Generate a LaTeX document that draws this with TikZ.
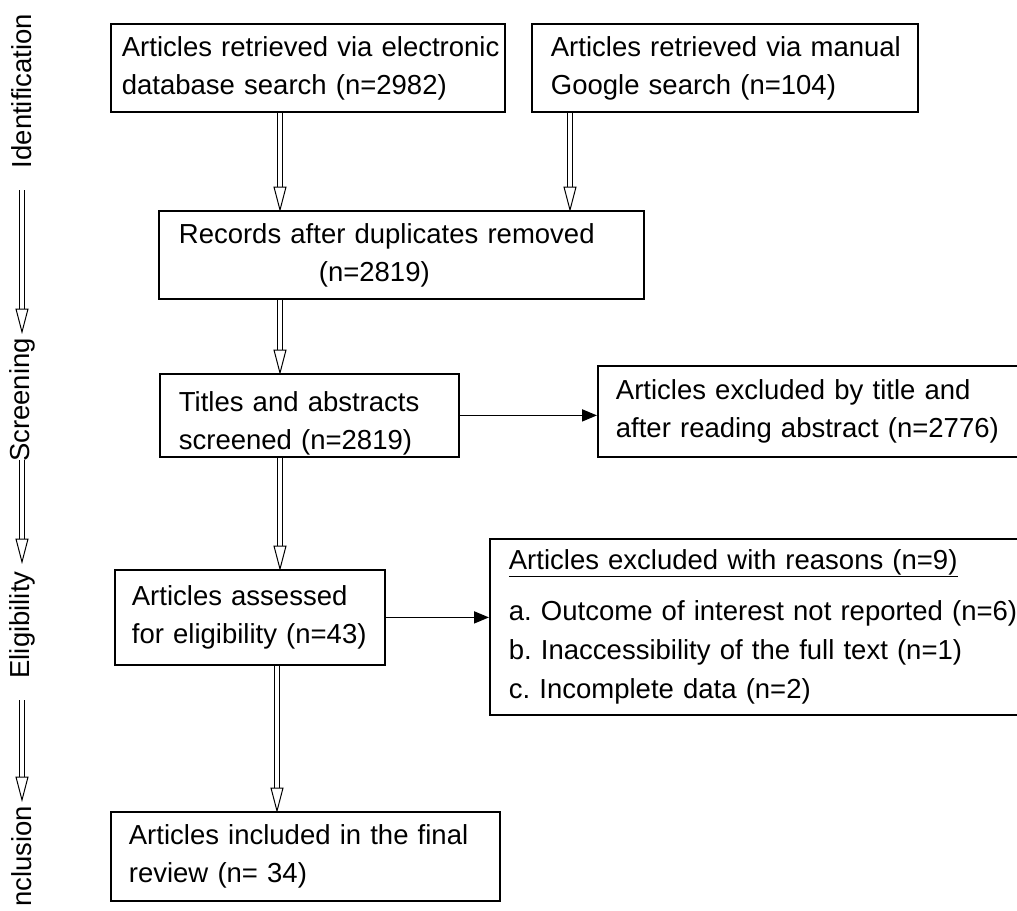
\documentclass[tikz,border=0pt]{standalone}
\usepackage{fontspec}
\setmainfont{Liberation Sans}
\usetikzlibrary{arrows.meta}
\frenchspacing
\newcommand{\hollowarrow}[2]{%
  \draw[hshaft] (#1) -- (#2);
  \draw[hhead] (#2) -- ++(-6,-23) -- ++(12,0) -- cycle;}
\begin{document}
\begin{tikzpicture}[x=1pt,y=-1pt,
  txt/.style={font=\fontsize{27.5}{38}\selectfont},
  box/.style={txt, draw, line width=1.8pt, anchor=north west, align=left, inner ysep=0pt},
  hshaft/.style={line width=1pt, double=white, double distance=3.6pt, shorten >=22pt},
  hhead/.style={line width=1pt, fill=white, line join=miter},
  solidarrow/.style={line width=1.8pt, -{Triangle[length=15pt,width=12pt]}},
  side/.style={txt, rotate=90, inner sep=0pt}
]
\clip (0,0) rectangle (1017,910);
\fill[white] (0,0) rectangle (1017,910);

% boxes
\node[box, minimum height=88pt, inner xsep=11pt, text width=372pt] (b1) at (110,23)
  {\mbox{Articles retrieved via electronic}\\\mbox{database search (n=2982)}};
\node[box, minimum height=88pt, inner xsep=19pt, text width=348pt] (b2) at (531,23)
  {\mbox{Articles retrieved via manual}\\\mbox{Google search (n=104)}};
\node[box, minimum height=88pt, inner xsep=20pt, text width=445pt] (b3) at (158,210)
  {\mbox{Records after duplicates removed}\\\hspace*{140pt}(n=2819)};
\node[box, minimum height=83pt, inner xsep=19pt, text width=261pt] (b4) at (159,373)
  {\rule{0pt}{36pt}Titles and abstracts\\screened (n=2819)};
\node[box, minimum height=91pt, inner xsep=18pt, text width=389pt] (b5) at (597,365)
  {\mbox{Articles excluded by title and}\\\mbox{after reading abstract (n=2776)}};
\node[box, minimum height=95pt, inner xsep=17pt, text width=236pt] (b6) at (114,569)
  {\mbox{Articles assessed}\\\mbox{for eligibility (n=43)}};
\node[box, minimum height=176pt, inner xsep=19pt, text width=505pt,
      font=\fontsize{27.5}{39}\selectfont] (b7) at (489,538)
  {\mbox{\underline{Articles excluded with reasons (n=9)}}\\[12pt]
   \mbox{a. Outcome of interest not reported (n=6)}\\
   \mbox{b. Inaccessibility of the full text (n=1)}\\
   \mbox{c. Incomplete data (n=2)}};
\node[box, minimum height=89pt, inner xsep=18pt, text width=353pt] (b8) at (110,811)
  {\mbox{Articles included in the final}\\\mbox{review (n= 34)}};

% column coordinates for hollow arrows
\coordinate (cL) at (280,0);
\coordinate (cR) at (570,0);
\coordinate (cB) at (277,0);

\hollowarrow{b1.south -| cL}{b3.north -| cL}
\hollowarrow{b2.south -| cR}{b3.north -| cR}
\hollowarrow{b3.south -| cL}{b4.north -| cL}
\hollowarrow{b4.south -| cL}{b6.north -| cL}
\hollowarrow{b6.south -| cB}{b8.north -| cB}

\draw[solidarrow] (b4.east) -- (b4.east -| b5.west);
\draw[solidarrow] (b6.east) -- (b6.east -| b7.west);

% side stage labels
\node[side] (lid) at (22,91) {Identification};
\node[side] (lsc) at (22,400) {Screening};
\node[side] (lel) at (22,625) {Eligibility};
\node[side, anchor=west] (lin) at (22,907) {nclusion};

\coordinate (s1a) at (22,190); \coordinate (s1b) at (22,332);
\coordinate (s2a) at (22,460); \coordinate (s2b) at (22,562);
\coordinate (s3a) at (22,700); \coordinate (s3b) at (22,800);
\hollowarrow{s1a}{s1b}
\hollowarrow{s2a}{s2b}
\hollowarrow{s3a}{s3b}
\end{tikzpicture}
\end{document}
